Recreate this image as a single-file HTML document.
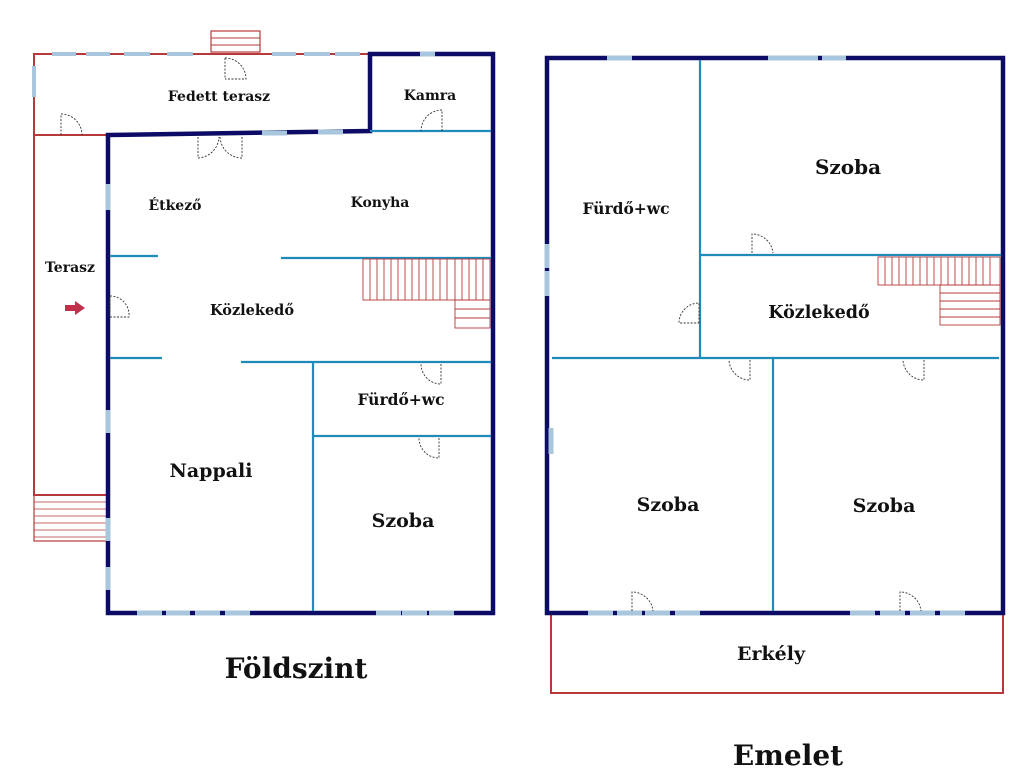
<!DOCTYPE html>
<html><head><meta charset="utf-8"><style>
html,body{margin:0;padding:0;background:#fff;}
svg{display:block;}
text{font-family:"DejaVu Serif","Liberation Serif",serif;font-weight:bold;fill:#111;text-anchor:middle;}
</style></head><body>
<svg width="1024" height="784" viewBox="0 0 1024 784" xmlns="http://www.w3.org/2000/svg">
<g fill="none" stroke-linecap="butt">
<!-- red terrace outlines -->
<g stroke="#b8393a" stroke-width="2">
<polyline points="370,54 34,54 34,495 108,495"/>
<line x1="34" y1="135" x2="108" y2="135"/>
<rect x="211" y="31" width="49" height="21" stroke-width="1.2"/>
<line x1="211" y1="38" x2="260" y2="38" stroke-width="1"/>
<line x1="211" y1="45" x2="260" y2="45" stroke-width="1"/>
<rect x="34" y="495" width="74" height="46" stroke-width="1.2"/>
<path d="M34 502H108M34 509H108M34 516H108M34 523H108M34 530H108M34 537H108" stroke-width="0.8"/>
<rect x="551" y="613" width="452" height="80"/>
</g>
<g stroke="#a8c6de" stroke-width="4">
<path d="M52 54H76M86 54H110M124 54H150M167 54H193M272 54H296M304 54H330M335 54H360"/>
<path d="M34 66V97"/>
</g>
<!-- navy outer walls -->
<g stroke="#0c0c66" stroke-width="4.5" stroke-linejoin="miter">
<path d="M108,135 L370,131 L370,54 L493,54 L493,613 L108,613 Z" />
<rect x="547" y="58" width="456" height="555"/>
</g>
<g stroke="#a8c6de" stroke-width="5">
<path d="M420 54H435M262 133H287M318 132H343M108 184V210M108 410V433M108 518V541M108 567V590"/>
<path d="M137 613H162M166 613H190M195 613H220M225 613H250M376 613H401M402 613H427M429 613H454"/>
<path d="M607 58H632M768 58H818M822 58H846M547 244V268M547 271V296M551 428V454"/>
<path d="M588 613H613M617 613H642M645 613H670M675 613H700M850 613H875M880 613H905M910 613H935M940 613H965"/>
</g>
<!-- inner walls -->
<g stroke="#1f8bbb" stroke-width="2.2">
<path d="M370 131H491M110 256H158M281 258H491M110 358H162M241 362H491M313 362V611M313 436H491"/>
<path d="M700 60V358M700 255H1001M552 358H999M773 358V611"/>
</g>
<!-- stairs -->
<g stroke="#b8393a" stroke-width="0.9">
<rect x="363" y="259" width="127" height="41"/>
<path d="M370 259V300M377 259V300M384 259V300M391 259V300M398 259V300M405 259V300M412 259V300M419 259V300M426 259V300M433 259V300M440 259V300M447 259V300M455 259V300M462 259V300M469 259V300M476 259V300M483 259V300"/>
<rect x="455" y="300" width="35" height="28"/>
<path d="M455 309H490M455 318H490"/>
<rect x="878" y="257" width="122" height="28"/>
<path d="M885 257V285M892 257V285M899 257V285M906 257V285M913 257V285M920 257V285M927 257V285M934 257V285M941 257V285M948 257V285M955 257V285M962 257V285M969 257V285M976 257V285M983 257V285M990 257V285"/>
<rect x="940" y="285" width="60" height="40"/>
<path d="M940 293H1000M940 301H1000M940 309H1000M940 317H1000"/>
</g>
<!-- doors -->
<g stroke="#333" stroke-width="0.9" stroke-dasharray="2,1.5">
<path d="M225 58V79M225 58A21 21 0 0 1 246 79H225"/>
<path d="M61 135V114A21 21 0 0 1 82 135"/>
<path d="M442 131V110A21 21 0 0 0 421 131"/>
<path d="M198 137V158A22 22 0 0 0 219 137M242 137V158A22 22 0 0 1 220 137"/>
<path d="M110 296V317H129A19 19 0 0 0 110 296"/>
<path d="M441 364V384A20 20 0 0 1 421 364"/>
<path d="M439 438V458A20 20 0 0 1 419 438"/>
<path d="M752 253V234A21 21 0 0 1 773 253"/>
<path d="M699 323V303A20 20 0 0 0 679 323H699"/>
<path d="M750 360V380A21 21 0 0 1 729 360"/>
<path d="M924 360V380A21 21 0 0 1 903 360"/>
<path d="M632 611V592A21 21 0 0 1 653 611"/>
<path d="M900 611V592A21 21 0 0 1 921 611"/>
</g>
</g>
<path d="M65 305H75V301L85 308L75 315V311H65Z" fill="#c0304a"/>
<text x="219" y="101" font-size="14">Fedett terasz</text>
<text x="430" y="100" font-size="14">Kamra</text>
<text x="175" y="210" font-size="14">Étkező</text>
<text x="380" y="207" font-size="14">Konyha</text>
<text x="70" y="272" font-size="14">Terasz</text>
<text x="252" y="315" font-size="14.5">Közlekedő</text>
<text x="401" y="405" font-size="15.5">Fürdő+wc</text>
<text x="211" y="477" font-size="19">Nappali</text>
<text x="403" y="527" font-size="19">Szoba</text>
<text x="296" y="678" font-size="28">Földszint</text>
<text x="626" y="214" font-size="15.5">Fürdő+wc</text>
<text x="848" y="174" font-size="20">Szoba</text>
<text x="819" y="318" font-size="17.5">Közlekedő</text>
<text x="668" y="511" font-size="19">Szoba</text>
<text x="884" y="512" font-size="19">Szoba</text>
<text x="771" y="660" font-size="19">Erkély</text>
<text x="788" y="765" font-size="28">Emelet</text>
</svg>
</body></html>
